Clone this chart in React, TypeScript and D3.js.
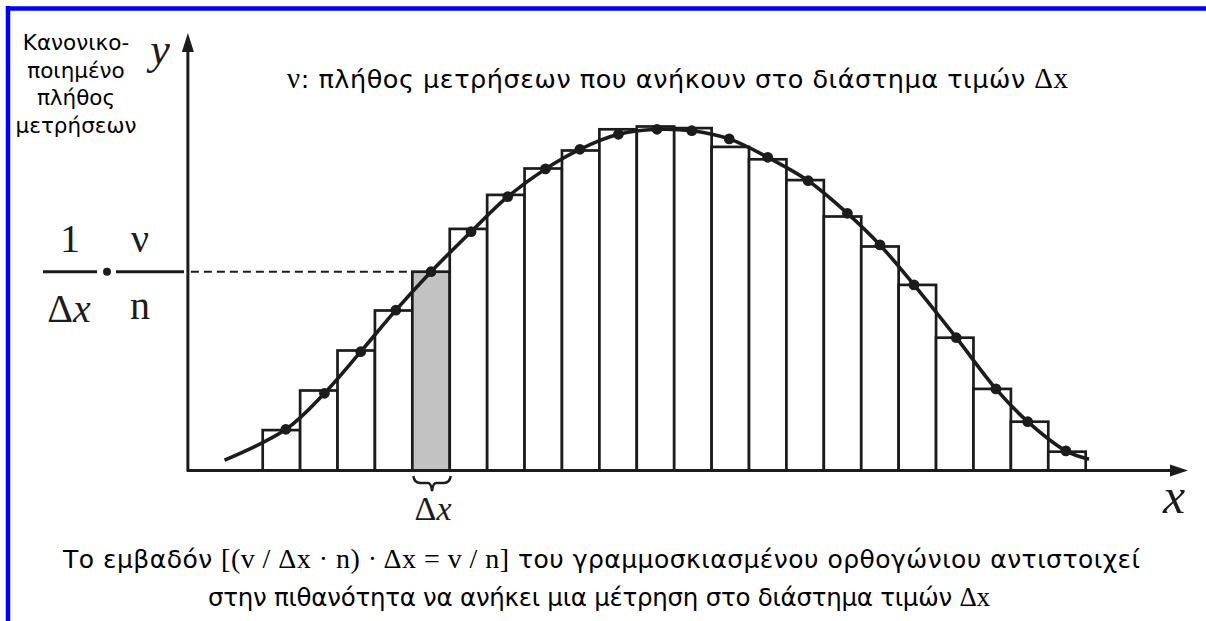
import React, { useRef, useLayoutEffect } from 'react';
import * as d3 from 'd3';

// normalised count of each bin (height of the histogram bars)
const binValues = [10.1, 20.0, 30.0, 40.0, 49.7, 60.4, 68.9, 75.5, 80.0, 85.3, 86.0, 85.6, 80.9, 77.8, 72.6, 63.5, 56.0, 46.4, 33.2, 20.4, 12.2, 4.7];
const shadedBin = 4;

// points of the smooth distribution curve (x in bin units); inner ones carry a dot
const curveX = [-1.02, 0.62, 1.65, 2.62, 3.56, 4.5, 5.57, 6.55, 7.56, 8.48, 9.51, 10.54, 11.47, 12.47, 13.5, 14.58, 15.63, 16.5, 17.41, 18.54, 19.6, 20.45, 21.47, 22.09];
const curveY = [2.6, 10.3, 19.3, 29.7, 40.1, 49.7, 59.7, 68.45, 75.4, 80.3, 84.05, 85.3, 84.95, 82.9, 78.3, 72.45, 64.3, 56.4, 46.4, 33.2, 20.4, 12.2, 4.9, 2.8];

const yLabelLines = ['Κανονικο-', 'ποιημένο', 'πλήθος', 'μετρήσεων'];
const titleText = ': πλήθος μετρήσεων που ανήκουν στο διάστημα τιμών ';
const captionLine1 = ['Το εμβαδόν ', '[(v / Δx · n) · Δx = v / n]', ' του γραμμοσκιασμένου ορθογώνιου αντιστοιχεί'];
const captionLine2 = ['στην πιθανότητα να ανήκει μια μέτρηση στο διάστημα τιμών ', 'Δx'];

const SANS = '"DejaVu Sans", sans-serif';
const SERIF = '"Liberation Serif", "Times New Roman", serif';
const INK = '#1c1c1c';

const App = () => {
    const ref = useRef<SVGSVGElement>(null);

    useLayoutEffect(() => {
        const svg = d3.select(ref.current);
        svg.selectAll('*').remove();

        const x = d3.scaleLinear().domain([0, binValues.length]).range([262.7, 1085.7]);
        const y = d3.scaleLinear().domain([0, 100]).range([470.5, 70.5]);
        const x0 = x(-2);
        const y0 = y(0);

        // blue frame (top and left)
        svg.append('line').attr('x1', 6).attr('x2', 1206).attr('y1', 8.5).attr('y2', 8.5)
            .attr('stroke', '#0000ff').attr('stroke-width', 4.5);
        svg.append('line').attr('x1', 8).attr('x2', 8).attr('y1', 6).attr('y2', 621)
            .attr('stroke', '#0000ff').attr('stroke-width', 4.5);

        // histogram bars
        svg.append('g')
            .selectAll('rect')
            .data(binValues)
            .enter().append('rect')
            .attr('x', (d, i) => x(i))
            .attr('y', d => y(d))
            .attr('width', x(1) - x(0))
            .attr('height', d => y0 - y(d))
            .attr('fill', (d, i) => i === shadedBin ? '#c2c2c2' : '#ffffff')
            .attr('stroke', INK)
            .attr('stroke-width', 2.7);

        // dashed guide from the y axis to the shaded bar
        const yShade = y(binValues[shadedBin]);
        svg.append('line')
            .attr('x1', x0 + 3).attr('x2', x(shadedBin))
            .attr('y1', yShade).attr('y2', yShade)
            .attr('stroke', INK).attr('stroke-width', 2)
            .attr('stroke-dasharray', '8,5');

        // axes with arrow heads
        svg.append('line').attr('x1', x0).attr('x2', x0).attr('y1', y0 + 1).attr('y2', 45)
            .attr('stroke', INK).attr('stroke-width', 3);
        svg.append('path').attr('d', `M${x0},33 L${x0 - 6},52 L${x0 + 6},52 Z`).attr('fill', INK);
        svg.append('line').attr('x1', x0 - 1).attr('x2', 1176).attr('y1', y0).attr('y2', y0)
            .attr('stroke', INK).attr('stroke-width', 3);
        svg.append('path').attr('d', `M1188,${y0} L1170,${y0 - 6} L1170,${y0 + 6} Z`).attr('fill', INK);

        // smooth curve and its sample dots
        const pts = curveX.map((cx, i) => [x(cx), y(curveY[i])] as [number, number]);
        svg.append('path')
            .attr('d', d3.line().curve(d3.curveCatmullRom.alpha(0.5))(pts))
            .attr('fill', 'none').attr('stroke', INK).attr('stroke-width', 3.6);
        svg.append('g')
            .selectAll('circle')
            .data(pts.slice(1, -1))
            .enter().append('circle')
            .attr('cx', d => d[0]).attr('cy', d => d[1]).attr('r', 5.4)
            .attr('fill', INK);

        // brace under the shaded bar
        const bl = x(shadedBin) + 1, br = x(shadedBin + 1) + 1, bm = (bl + br) / 2;
        svg.append('path')
            .attr('d', `M${bl},476 Q${bl + 1},483 ${bl + 7},483 L${bm - 4},483 Q${bm - 1},483 ${bm},491 Q${bm + 1},483 ${bm + 4},483 L${br - 7},483 Q${br - 1},483 ${br},476`)
            .attr('fill', 'none').attr('stroke', INK).attr('stroke-width', 2.4);
        const dxLabel = svg.append('text').attr('x', bm + 1).attr('y', 520)
            .attr('text-anchor', 'middle').style('font-family', SERIF).style('font-size', '34px').attr('fill', INK);
        dxLabel.append('tspan').text('Δ');
        dxLabel.append('tspan').style('font-style', 'italic').text('x');

        // axis letters
        svg.append('text').attr('x', 160).attr('y', 64).attr('text-anchor', 'middle')
            .style('font-family', SERIF).style('font-style', 'italic').style('font-size', '44px').attr('fill', INK).text('y');
        svg.append('text').attr('x', 1174).attr('y', 513).attr('text-anchor', 'middle')
            .style('font-family', SERIF).style('font-style', 'italic').style('font-size', '50px').attr('fill', INK).text('x');

        // y label (top left)
        svg.append('g').selectAll('text')
            .data(yLabelLines)
            .enter().append('text')
            .attr('x', 76).attr('y', (d, i) => 50 + i * 27.5)
            .attr('text-anchor', 'middle')
            .style('font-family', SANS).style('font-size', '21.5px').attr('fill', '#000')
            .text(d => d);

        // fraction 1/Δx · ν/n on the y axis
        svg.append('line').attr('x1', 43).attr('x2', 97).attr('y1', yShade).attr('y2', yShade)
            .attr('stroke', INK).attr('stroke-width', 3);
        svg.append('circle').attr('cx', 107).attr('cy', yShade).attr('r', 4).attr('fill', INK);
        svg.append('line').attr('x1', 116).attr('x2', 184).attr('y1', yShade).attr('y2', yShade)
            .attr('stroke', INK).attr('stroke-width', 3);
        const frac = svg.append('g').style('font-family', SERIF).style('font-size', '40px').attr('fill', INK)
            .attr('text-anchor', 'middle');
        frac.append('text').attr('x', 70).attr('y', yShade - 20).text('1');
        frac.append('text').attr('x', 140).attr('y', yShade - 20).text('ν');
        frac.append('text').attr('x', 140).attr('y', yShade + 47).text('n');
        const fd = frac.append('text').attr('x', 69).attr('y', yShade + 50);
        fd.append('tspan').text('Δ');
        fd.append('tspan').style('font-style', 'italic').text('x');

        // title
        const title = svg.append('text').attr('x', 287).attr('y', 88)
            .attr('textLength', 781).attr('lengthAdjust', 'spacing')
            .style('font-size', '25.5px').attr('fill', '#000');
        title.append('tspan').style('font-family', SERIF).style('font-size', '29px').text('ν');
        title.append('tspan').style('font-family', SANS).text(titleText);
        title.append('tspan').style('font-family', SERIF).style('font-size', '29px').text('Δx');

        // caption
        const c1 = svg.append('text').attr('x', 63).attr('y', 568)
            .attr('textLength', 1077).attr('lengthAdjust', 'spacing')
            .style('font-size', '25px').attr('fill', '#000');
        c1.append('tspan').style('font-family', SANS).text(captionLine1[0]);
        c1.append('tspan').style('font-family', SERIF).style('font-size', '28px').text(captionLine1[1]);
        c1.append('tspan').style('font-family', SANS).text(captionLine1[2]);
        const c2 = svg.append('text').attr('x', 208).attr('y', 606)
            .attr('textLength', 782).attr('lengthAdjust', 'spacing')
            .style('font-size', '24.5px').attr('fill', '#000');
        c2.append('tspan').style('font-family', SANS).text(captionLine2[0]);
        c2.append('tspan').style('font-family', SERIF).style('font-size', '27px').text(captionLine2[1]);
    }, []);

    return (
        <svg ref={ref} width={1206} height={621}
            style={{ position: 'absolute', left: 0, top: 0, background: '#fff' }}></svg>
    );
};

export default App;
